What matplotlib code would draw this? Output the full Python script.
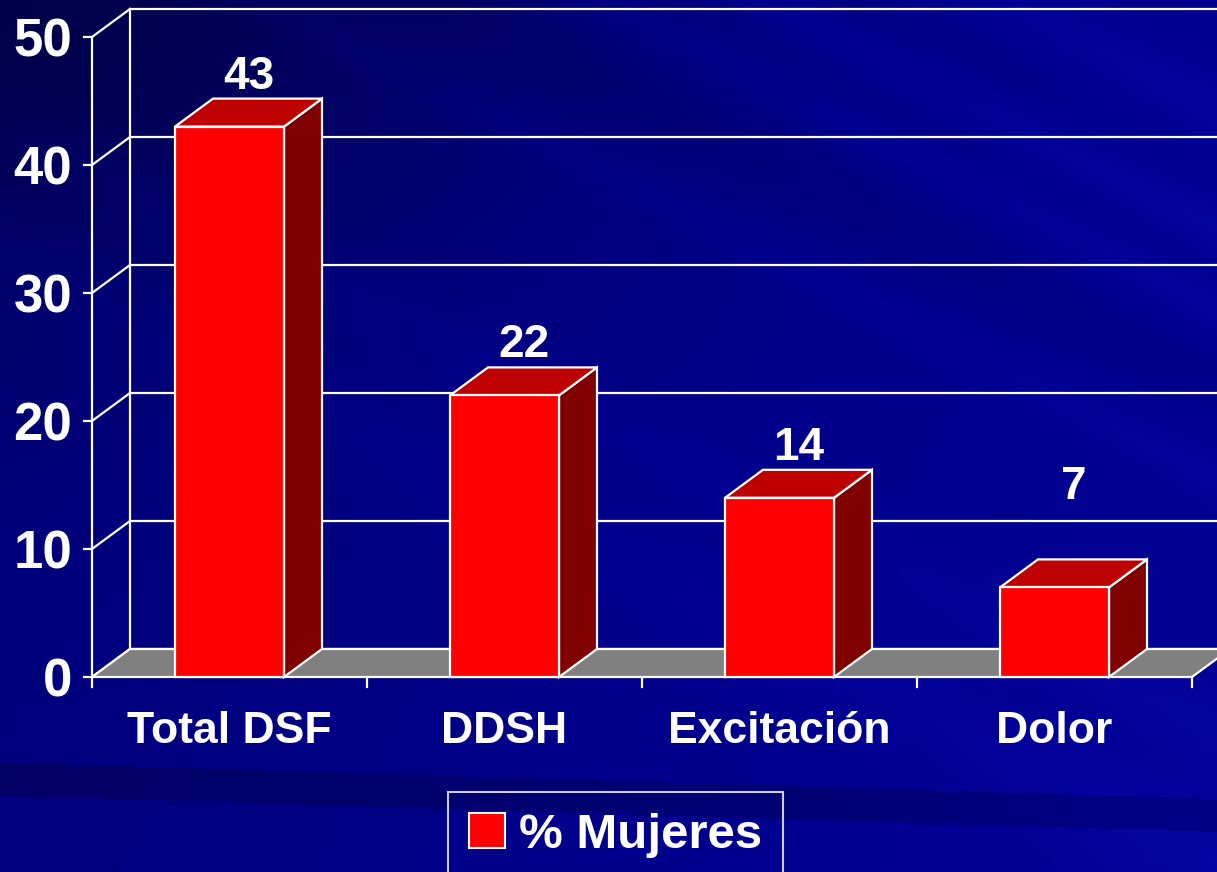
import numpy as np
import matplotlib as mpl
import matplotlib.pyplot as plt
from matplotlib.patches import Polygon, Rectangle, Patch

# -----------------------------------------------------------------------------
# Data
# -----------------------------------------------------------------------------
categories = ["Total DSF", "DDSH", "Excitación", "Dolor"]
values = [43, 22, 14, 7]
value_labels = ["43", "22", "14", "7"]
yticks = [0, 10, 20, 30, 40, 50]
series_name = "% Mujeres"

# -----------------------------------------------------------------------------
# Style / layout
# -----------------------------------------------------------------------------
mpl.rcParams.update({
    "font.family": ["Liberation Sans", "DejaVu Sans"],
    "font.weight": "bold",
})

W, H, DPI = 1217, 872, 100
AX_X0 = 92        # pixel column of front value axis
CAT_PX = 275      # pixels per category
ZERO_ROW = 677    # pixel row of value 0 (front)
PX_UNIT = 12.8    # pixels per value unit
DX = 38 / CAT_PX  # depth offset, in category units
DY = 28 / PX_UNIT # depth offset, in value units
BW = 109 / CAT_PX

WHITE = "white"
LW = 1.6
C_FRONT, C_TOP, C_SIDE = "#FF0000", "#BF0000", "#800000"
C_FLOOR = "#808080"

xmin = -0.5 - AX_X0 / CAT_PX
xmax = -0.5 + (W - AX_X0) / CAT_PX
ymin = (ZERO_ROW - H) / PX_UNIT
ymax = ZERO_ROW / PX_UNIT

fig = plt.figure(figsize=(W / DPI, H / DPI), dpi=DPI)

# background: dark navy gradient with soft diagonal streaks
bg_ax = fig.add_axes([0, 0, 1, 1])
bg_ax.axis("off")
yy, xx = np.mgrid[0:H, 0:W].astype(float)
p = yy - 0.5 * xx
b = 0.46 + 0.10 * (xx / W) + 0.04 * (yy / H)
b = b - 0.17 * np.exp(-((xx / 520) ** 2 + (yy / 300) ** 2))
for centre, width, amp in [(-380, 30, 0.05), (-300, 25, 0.04), (-500, 40, 0.05),
                           (120, 40, 0.03), (250, 60, 0.03), (-130, 25, 0.03),
                           (-220, 40, -0.03)]:
    b = b + amp * np.exp(-((p - centre) / width) ** 2)
band = yy - 0.03 * xx
b = b - 0.10 * ((band > 762) & (band < 795))
b = np.clip(b, 0, 1)
rg = np.clip((b - 0.58) * 0.4, 0, 1)
bg = np.dstack([rg, rg, b])
bg_ax.imshow(bg, aspect="auto", extent=(0, W, H, 0))
bg_ax.set_xlim(0, W)
bg_ax.set_ylim(H, 0)

ax = fig.add_axes([0, 0, 1, 1])
ax.set_facecolor("none")
ax.axis("off")
ax.set_xlim(xmin, xmax)
ax.set_ylim(ymin, ymax)

left = -0.5
right = len(categories) - 0.5

# back wall gridlines + side wall diagonals + ticks
for v in yticks:
    ax.plot([left + DX, xmax + 1], [v + DY, v + DY], color=WHITE, lw=LW, zorder=2)
    ax.plot([left, left + DX], [v, v + DY], color=WHITE, lw=LW, zorder=2)
    ax.plot([left - 8 / CAT_PX, left], [v, v], color=WHITE, lw=LW, zorder=2)
    ax.text(left - 20 / CAT_PX, v, str(v), ha="right", va="center_baseline",
            fontsize=38, color=WHITE, fontweight="bold")
ax.plot([left + DX, left + DX], [DY, yticks[-1] + DY], color=WHITE, lw=LW, zorder=2)
ax.plot([left, left], [0, yticks[-1]], color=WHITE, lw=LW, zorder=2)

# floor
floor = Polygon([(left, 0), (right, 0), (right + DX, DY), (left + DX, DY)],
                closed=True, fc=C_FLOOR, ec=WHITE, lw=LW, zorder=3)
ax.add_patch(floor)
for k in range(len(categories) + 1):
    ax.plot([left + k, left + k], [0, -10 / PX_UNIT], color=WHITE, lw=LW, zorder=3)

# bars
for i, v in enumerate(values):
    xl, xr = i - BW / 2, i + BW / 2
    side = Polygon([(xr, 0), (xr + DX, DY), (xr + DX, v + DY), (xr, v)],
                   closed=True, fc=C_SIDE, ec=WHITE, lw=LW, zorder=4)
    top = Polygon([(xl, v), (xr, v), (xr + DX, v + DY), (xl + DX, v + DY)],
                  closed=True, fc=C_TOP, ec=WHITE, lw=LW, zorder=4)
    front = Rectangle((xl, 0), BW, v, fc=C_FRONT, ec=WHITE, lw=LW, zorder=5)
    for patch in (side, top, front):
        ax.add_patch(patch)
    ax.text(i + DX / 2, max(v + 4.3, 15.2), value_labels[i], ha="center",
            va="center_baseline", fontsize=33, color=WHITE, fontweight="bold", zorder=6)
    ax.text(i, -3.9, categories[i], ha="center", va="center_baseline",
            fontsize=32, color=WHITE, fontweight="bold")

# legend
leg = fig.legend(handles=[Patch(fc=C_FRONT, ec=WHITE, lw=1.5)], labels=[series_name],
                 loc="upper center", bbox_to_anchor=(0.506, 1 - 792 / H),
                 frameon=True, fancybox=False, edgecolor=WHITE, facecolor="none",
                 prop={"size": 35.5, "weight": "bold"}, labelcolor=WHITE,
                 handlelength=0.72, handleheight=0.72, handletextpad=0.3,
                 borderpad=0.42, borderaxespad=0)
leg.get_frame().set_linewidth(1.5)

fig.savefig("out.png", dpi=DPI)
